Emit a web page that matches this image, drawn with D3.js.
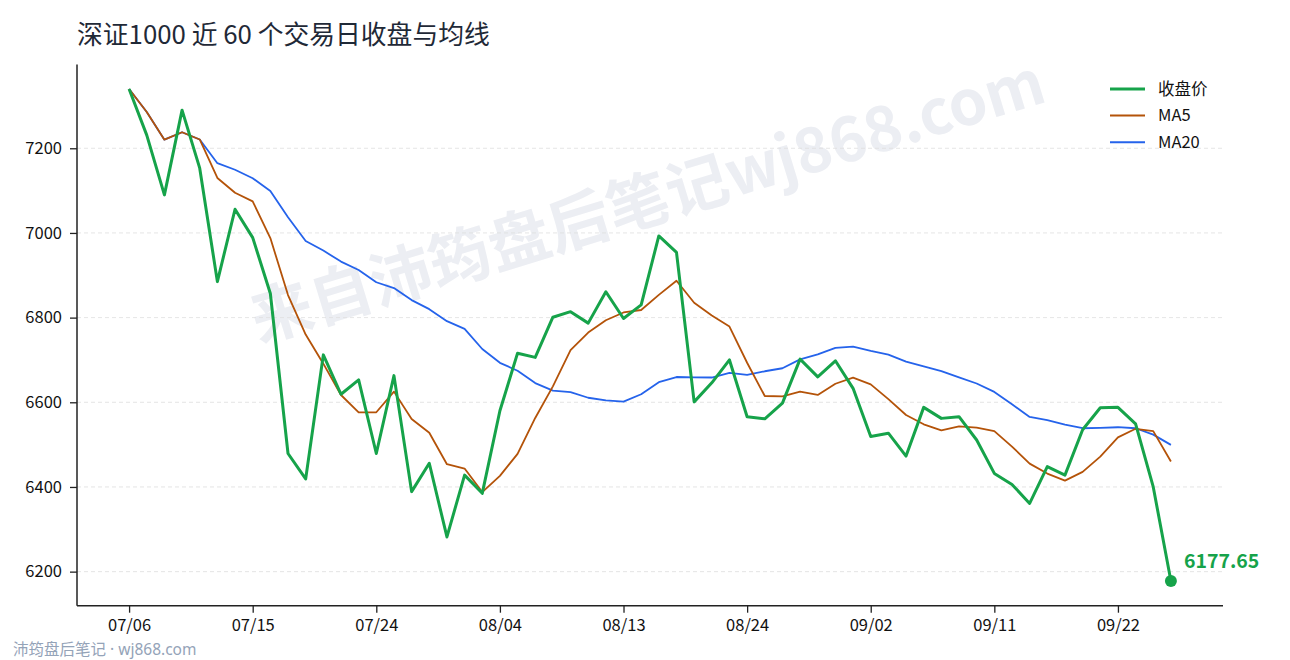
<!DOCTYPE html>
<html>
<head>
<meta charset="utf-8">
<script src="https://cdn.jsdelivr.net/npm/d3@7"></script>
<style>
  html, body { margin: 0; padding: 0; background: #fff; }
  svg { display: block; font-family: "Noto Sans CJK SC", "Noto Sans", sans-serif; }
</style>
</head>
<body>
<div id="chart"></div>
<script>
// 60 trading days
const dates = [
  "07/06","07/07","07/08","07/09","07/10","07/13","07/14","07/15","07/16","07/17",
  "07/20","07/21","07/22","07/23","07/24","07/27","07/28","07/29","07/30","07/31",
  "08/03","08/04","08/05","08/06","08/07","08/10","08/11","08/12","08/13","08/14",
  "08/17","08/18","08/19","08/20","08/21","08/24","08/25","08/26","08/27","08/28",
  "08/31","09/01","09/02","09/03","09/04","09/07","09/08","09/09","09/10","09/11",
  "09/14","09/15","09/16","09/17","09/18","09/21","09/22","09/23","09/24","09/25"
];

const closeValues = [
  7340, 7231, 7090, 7290, 7153, 6885, 7056, 6989, 6857, 6479,
  6419, 6712, 6619, 6653, 6479, 6663, 6389, 6456, 6282, 6428,
  6385, 6580, 6716, 6706, 6801, 6814, 6787, 6861, 6798, 6830,
  6993, 6954, 6601, 6646, 6700, 6566, 6561, 6598, 6702, 6660,
  6698, 6633, 6519, 6527, 6473, 6588, 6562, 6566, 6511, 6432,
  6406, 6361, 6448, 6428, 6535, 6587, 6588, 6549, 6400, 6177.65
];

const ma5Values = [
  7340.0, 7285.5, 7220.3, 7237.8, 7220.8, 7129.8, 7094.8, 7074.6, 6988.0, 6853.2,
  6760.0, 6691.2, 6617.2, 6576.4, 6576.4, 6625.2, 6560.6, 6528.0, 6453.8, 6443.6,
  6388.0, 6426.2, 6478.2, 6563.0, 6637.6, 6723.4, 6764.8, 6793.8, 6812.2, 6818.0,
  6853.8, 6887.2, 6835.2, 6804.8, 6778.8, 6693.4, 6614.8, 6614.2, 6625.4, 6617.4,
  6643.8, 6658.2, 6642.4, 6607.4, 6570.0, 6548.0, 6533.8, 6543.2, 6540.0, 6531.8,
  6495.4, 6455.2, 6431.6, 6415.0, 6435.6, 6471.8, 6517.2, 6537.4, 6531.8, 6460.3
];

const ma20Values = [
  7340.0, 7285.5, 7220.3, 7237.8, 7220.8, 7164.8, 7149.3, 7129.3, 7099.0, 7037.0,
  6980.8, 6958.4, 6932.3, 6912.4, 6883.5, 6869.7, 6841.4, 6820.0, 6791.7, 6773.5,
  6725.8, 6693.2, 6674.5, 6645.3, 6627.7, 6624.2, 6610.7, 6604.3, 6601.4, 6618.9,
  6647.6, 6659.7, 6658.8, 6658.5, 6669.5, 6664.7, 6673.3, 6680.4, 6701.4, 6713.0,
  6728.6, 6731.3, 6721.4, 6712.5, 6696.1, 6684.8, 6673.5, 6658.8, 6644.4, 6624.5,
  6595.2, 6565.5, 6557.9, 6547.0, 6538.7, 6539.8, 6541.1, 6538.7, 6523.6, 6499.4
];

const yTicks = [6200, 6400, 6600, 6800, 7000, 7200];
const xTickDates = ["07/06","07/15","07/24","08/04","08/13","08/24","09/02","09/11","09/22"];

const seriesNames = ["收盘价", "MA5", "MA20"];
const seriesColors = ["#16a34a", "#b45309", "#2563eb"];
const seriesWidths = [3, 1.8, 1.8];

const W = 1290, H = 660;
const plot = { left: 77, right: 1223, top: 64.4, bottom: 605.7 };

const svg = d3.select("#chart").append("svg")
  .attr("width", W)
  .attr("height", H);

// watermark
svg.append("text")
  .attr("transform", "translate(646,196) rotate(-17)")
  .attr("text-anchor", "middle")
  .attr("dominant-baseline", "central")
  .attr("font-size", 62)
  .attr("font-weight", 700)
  .attr("fill", "#eceef3")
  .text("来自沛筠盘后笔记wj868.com");

const x = d3.scalePoint()
  .domain(dates)
  .range([plot.left, plot.right])
  .padding(2.95);

// matplotlib-like 5% margins
const yMin = d3.min(closeValues), yMax = d3.max(closeValues);
const pad = (yMax - yMin) * 0.05;
const y = d3.scaleLinear()
  .domain([yMin - pad, yMax + pad])
  .range([plot.bottom, plot.top]);

// grid
svg.append("g")
  .selectAll("line")
  .data(yTicks)
  .join("line")
  .attr("x1", plot.left)
  .attr("x2", plot.right)
  .attr("y1", d => y(d))
  .attr("y2", d => y(d))
  .attr("stroke", "#dedede")
  .attr("stroke-width", 0.8)
  .attr("stroke-dasharray", "4,3");

// lines
const line = d3.line()
  .x((d, i) => x(dates[i]))
  .y(d => y(d));

const allSeries = [closeValues, ma5Values, ma20Values];
[2, 1, 0].forEach(k => {
  svg.append("path")
    .datum(allSeries[k])
    .attr("fill", "none")
    .attr("stroke", seriesColors[k])
    .attr("stroke-width", seriesWidths[k])
    .attr("stroke-linejoin", "round")
    .attr("d", line);
});

// axes
const yAxis = svg.append("g")
  .attr("transform", `translate(${plot.left},0)`)
  .call(d3.axisLeft(y).tickValues(yTicks).tickFormat(d3.format("d"))
    .tickSize(7).tickPadding(8).tickSizeOuter(0));

const xAxis = svg.append("g")
  .attr("transform", `translate(0,${plot.bottom})`)
  .call(d3.axisBottom(x).tickValues(xTickDates).tickSize(7).tickPadding(7).tickSizeOuter(0));

[yAxis, xAxis].forEach(g => {
  g.select(".domain").attr("stroke", "#222").attr("stroke-width", 1.5);
  g.selectAll(".tick line").attr("stroke", "#222").attr("stroke-width", 1.3);
  g.selectAll(".tick text")
    .attr("fill", "#111")
    .attr("font-size", 16.5)
    .attr("font-family", "'Noto Sans CJK SC', sans-serif");
});
yAxis.select(".domain").attr("d", `M0,${plot.top}V${plot.bottom}`);
xAxis.select(".domain").attr("d", `M${plot.left},0H${plot.right}`);

// last point
const lastIdx = closeValues.length - 1;
const lastVal = closeValues[lastIdx];
svg.append("circle")
  .attr("cx", x(dates[lastIdx]))
  .attr("cy", y(lastVal))
  .attr("r", 6)
  .attr("fill", seriesColors[0]);

svg.append("text")
  .attr("x", x(dates[lastIdx]) + 13)
  .attr("y", y(lastVal) - 13)
  .attr("font-size", 19.5)
  .attr("font-weight", 700)
  .attr("fill", seriesColors[0])
  .text(lastVal.toFixed(2));

// legend
const legend = svg.append("g").attr("transform", "translate(1110,89)");
seriesNames.forEach((name, i) => {
  const row = legend.append("g").attr("transform", `translate(0,${i * 26.6})`);
  row.append("line")
    .attr("x1", 0).attr("x2", 35)
    .attr("stroke", seriesColors[i])
    .attr("stroke-width", seriesWidths[i] + (i === 0 ? 0 : 0.2));
  row.append("text")
    .attr("x", 48)
    .attr("dy", "0.35em")
    .attr("font-size", 16.5)
    .attr("fill", "#111")
    .text(name);
});

// title
svg.append("text")
  .attr("x", 77)
  .attr("y", 44)
  .attr("font-size", 25.8)
  .attr("fill", "#1f2937")
  .text("深证1000 近 60 个交易日收盘与均线");

// footer
const footer = svg.append("text")
  .attr("x", 13)
  .attr("y", 655)
  .attr("font-size", 15.5)
  .attr("fill", "#94a3b8");
footer.append("tspan").text("沛筠盘后笔记");
footer.append("tspan").attr("font-family", "'Noto Sans', sans-serif").text(" · wj868.com");
</script>
</body>
</html>
